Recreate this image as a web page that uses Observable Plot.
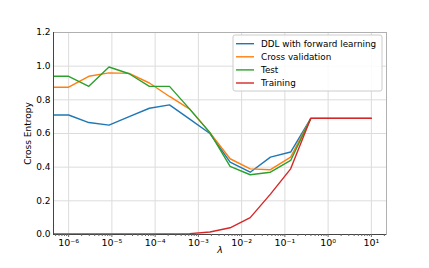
<!DOCTYPE html>
<html>
<head>
<meta charset="utf-8">
<script src="https://cdn.jsdelivr.net/npm/d3@7"></script>
<script src="https://cdn.jsdelivr.net/npm/@observablehq/plot@0.6"></script>
<style>
  html, body { margin: 0; padding: 0; background: #fff; }
  #chart svg { display: block; font-family: "DejaVu Sans", sans-serif; }
</style>
</head>
<body>
<div id="chart"></div>
<script>
// λ values (log-spaced)
const lambdas = [3.41e-7, 1e-6, 2.93e-6, 8.58e-6, 2.51e-5, 7.36e-5, 2.15e-4, 6.31e-4, 1.85e-3, 5.41e-3, 1.58e-2, 4.64e-2, 0.136, 0.398, 1.17, 3.41, 10];
const seriesNames = ["DDL with forward learning", "Cross validation", "Test", "Training"];
const seriesColors = ["#1f77b4", "#ff7f0e", "#2ca02c", "#d62728"];
const ddl      = [0.71, 0.71, 0.665, 0.65, 0.70, 0.75, 0.77, 0.685, 0.60, 0.43, 0.37, 0.46, 0.49, 0.69, 0.69, 0.69, 0.69];
const crossVal = [0.875, 0.875, 0.94, 0.96, 0.957, 0.90, 0.82, 0.745, 0.605, 0.45, 0.39, 0.385, 0.46, 0.69, 0.69, 0.69, 0.69];
const test     = [0.94, 0.94, 0.88, 0.995, 0.955, 0.88, 0.88, 0.745, 0.605, 0.405, 0.355, 0.37, 0.44, 0.69, 0.69, 0.69, 0.69];
const training = [0.003, 0.003, 0.003, 0.003, 0.003, 0.003, 0.003, 0.005, 0.015, 0.04, 0.10, 0.24, 0.39, 0.69, 0.69, 0.69, 0.69];
const xMajorTicks = [1e-6, 1e-5, 1e-4, 1e-3, 1e-2, 1e-1, 1, 10];
const xTickLabels = ["10⁻⁶", "10⁻⁵", "10⁻⁴", "10⁻³", "10⁻²", "10⁻¹", "10⁰", "10¹"];
const yTicks = [0, 0.2, 0.4, 0.6, 0.8, 1.0, 1.2];

const allSeries = [ddl, crossVal, test, training];
const rows = [];
allSeries.forEach((vals, si) => {
  vals.forEach((v, i) => rows.push({series: seriesNames[si], lambda: lambdas[i], value: v}));
});

const minorTicks = [];
for (let e = -7; e <= 1; e++) {
  for (let m = 2; m <= 9; m++) minorTicks.push(m * Math.pow(10, e));
}

const xDomain = [Math.pow(10, -6.35), Math.pow(10, 1.35)];
const minorIn = minorTicks.filter(t => t >= xDomain[0] && t <= xDomain[1]);

const plot = Plot.plot({
  width: 429,
  height: 268,
  marginLeft: 53,
  marginRight: 43,
  marginTop: 32,
  marginBottom: 34,
  style: {fontFamily: "DejaVu Sans, sans-serif", fontSize: "9px", background: "#fff", color: "#000"},
  x: {type: "log", domain: xDomain},
  y: {domain: [0, 1.2]},
  color: {domain: seriesNames, range: seriesColors},
  marks: [
    Plot.gridX(xMajorTicks, {stroke: "#dcdcdc", strokeOpacity: 1, strokeWidth: 1}),
    Plot.gridY(yTicks, {stroke: "#dcdcdc", strokeOpacity: 1, strokeWidth: 1}),
    Plot.line(rows, {x: "lambda", y: "value", z: "series", stroke: "series", strokeWidth: 1.4, clip: true}),
    Plot.frame({stroke: "#b0b0b0", strokeWidth: 1}),
    Plot.ruleX([xDomain[0]], {stroke: "#444"}),
    Plot.ruleY([0], {stroke: "#444"}),
    Plot.axisX(minorIn, {tickSize: 2, tickFormat: () => "", stroke: "#666", label: null}),
    Plot.axisX(xMajorTicks, {tickSize: 3, tickPadding: 2, stroke: "#666",
      tickFormat: (d) => xTickLabels[xMajorTicks.indexOf(d)], fontSize: 9.5,
      label: "λ", labelAnchor: "center", labelArrow: "none", labelOffset: 18}),
    Plot.axisY(yTicks, {tickSize: 0, tickPadding: 3, tickFormat: d3.format(".1f"),
      label: "Cross Entropy", labelAnchor: "center", labelArrow: "none", labelOffset: 29})
  ]
});

// italic lambda like mathtext
d3.select(plot).selectAll("text").filter(function () { return this.textContent === "λ"; })
  .attr("font-style", "italic");

// Legend inside the plot area (upper right)
const svg = d3.select(plot);
const lg = svg.append("g").attr("font-family", "DejaVu Sans, sans-serif").attr("font-size", "8.8px")
  .attr("text-anchor", "start");
const lx = 233, ly = 35, lw = 149, lh = 56;
lg.append("rect").attr("x", lx).attr("y", ly).attr("width", lw).attr("height", lh)
  .attr("rx", 2).attr("fill", "#fff").attr("fill-opacity", 0.85).attr("stroke", "#cccccc");
seriesNames.forEach((name, i) => {
  const yy = ly + 8.7 + i * 13.1;
  lg.append("line").attr("x1", lx + 3).attr("x2", lx + 21).attr("y1", yy).attr("y2", yy)
    .attr("stroke", seriesColors[i]).attr("stroke-width", 1.4);
  lg.append("text").attr("x", lx + 28).attr("y", yy).attr("dy", "0.35em")
    .attr("text-anchor", "start").attr("fill", "#000").text(name);
});

document.getElementById("chart").appendChild(plot);
</script>
</body>
</html>
